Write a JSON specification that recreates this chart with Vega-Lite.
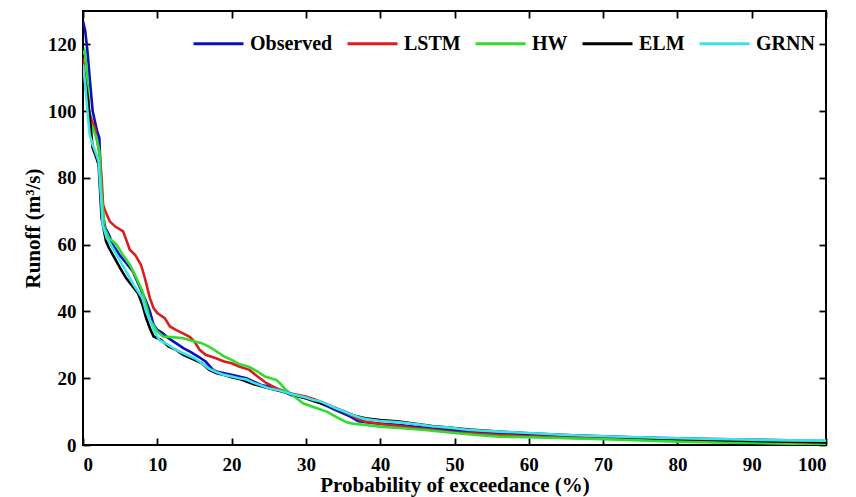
{
  "$schema": "https://vega.github.io/schema/vega-lite/v6.json",
  "width": 743,
  "height": 434,
  "autosize": {"type": "none"},
  "padding": {"left": 83, "top": 11, "right": 30, "bottom": 52},
  "background": "white",
  "config": {
    "view": {"stroke": "black", "strokeWidth": 2},
    "font": "Liberation Serif",
    "axis": {
      "grid": false,
      "domain": false,
      "tickColor": "black",
      "tickSize": -7,
      "tickWidth": 1.8,
      "labelFont": "Liberation Serif",
      "labelFontSize": 19,
      "labelFontWeight": "bold",
      "labelColor": "black",
      "titleFont": "Liberation Serif",
      "titleFontSize": 21,
      "titleFontWeight": "bold",
      "titleColor": "black"
    }
  },
  "datasets": {
    "curves": [
      {"model":"Observed","x":0,"y":127},{"model":"Observed","x":0.3,"y":124},{"model":"Observed","x":0.6,"y":118},{"model":"Observed","x":0.9,"y":110},{"model":"Observed","x":1.3,"y":100},{"model":"Observed","x":1.6,"y":97},{"model":"Observed","x":1.9,"y":94},{"model":"Observed","x":2.2,"y":92},{"model":"Observed","x":2.4,"y":80},{"model":"Observed","x":2.6,"y":70},{"model":"Observed","x":3.0,"y":65},{"model":"Observed","x":3.5,"y":63},{"model":"Observed","x":4.0,"y":60},{"model":"Observed","x":4.9,"y":57},{"model":"Observed","x":5.8,"y":54.5},{"model":"Observed","x":6.7,"y":52},{"model":"Observed","x":7.5,"y":48},{"model":"Observed","x":8.5,"y":43},{"model":"Observed","x":9.0,"y":40},{"model":"Observed","x":9.5,"y":36},{"model":"Observed","x":10,"y":34.5},{"model":"Observed","x":10.7,"y":33.5},{"model":"Observed","x":11.5,"y":32},{"model":"Observed","x":12.5,"y":30.5},{"model":"Observed","x":13.5,"y":29},{"model":"Observed","x":14.4,"y":28},{"model":"Observed","x":15.5,"y":26.5},{"model":"Observed","x":16.5,"y":25},{"model":"Observed","x":17.5,"y":22.5},{"model":"Observed","x":18,"y":22},{"model":"Observed","x":19,"y":21.5},{"model":"Observed","x":20,"y":21},{"model":"Observed","x":21,"y":20.5},{"model":"Observed","x":22,"y":20},{"model":"Observed","x":23,"y":19},{"model":"Observed","x":24,"y":18},{"model":"Observed","x":25,"y":17.5},{"model":"Observed","x":26.5,"y":16.5},{"model":"Observed","x":28,"y":15},{"model":"Observed","x":29,"y":14.5},{"model":"Observed","x":30,"y":14},{"model":"Observed","x":31,"y":13.5},{"model":"Observed","x":32,"y":12.5},{"model":"Observed","x":33,"y":11.5},{"model":"Observed","x":34,"y":10.5},{"model":"Observed","x":35,"y":9.5},{"model":"Observed","x":36,"y":8.5},{"model":"Observed","x":37,"y":7.2},{"model":"Observed","x":38,"y":6.8},{"model":"Observed","x":40,"y":6.4},{"model":"Observed","x":42.6,"y":6},{"model":"Observed","x":45,"y":5.4},{"model":"Observed","x":47,"y":4.9},{"model":"Observed","x":49.3,"y":4.5},{"model":"Observed","x":52,"y":4},{"model":"Observed","x":56,"y":3.6},{"model":"Observed","x":60,"y":3.2},{"model":"Observed","x":65,"y":2.8},{"model":"Observed","x":70,"y":2.4},{"model":"Observed","x":75,"y":2.2},{"model":"Observed","x":80,"y":2.0},{"model":"Observed","x":85,"y":1.8},{"model":"Observed","x":90,"y":1.6},{"model":"Observed","x":95,"y":1.4},{"model":"Observed","x":100,"y":1.2},

      {"model":"LSTM","x":0,"y":116},{"model":"LSTM","x":0.2,"y":112},{"model":"LSTM","x":0.4,"y":106},{"model":"LSTM","x":0.8,"y":100},{"model":"LSTM","x":1.2,"y":97},{"model":"LSTM","x":1.6,"y":95},{"model":"LSTM","x":2.0,"y":90},{"model":"LSTM","x":2.3,"y":86},{"model":"LSTM","x":2.5,"y":80},{"model":"LSTM","x":2.7,"y":72},{"model":"LSTM","x":3.0,"y":70},{"model":"LSTM","x":3.6,"y":67},{"model":"LSTM","x":4.3,"y":65.5},{"model":"LSTM","x":5.4,"y":64},{"model":"LSTM","x":5.9,"y":61},{"model":"LSTM","x":6.3,"y":58.5},{"model":"LSTM","x":7.0,"y":57},{"model":"LSTM","x":7.8,"y":54},{"model":"LSTM","x":8.2,"y":51},{"model":"LSTM","x":8.5,"y":48.5},{"model":"LSTM","x":9.0,"y":44},{"model":"LSTM","x":9.5,"y":41},{"model":"LSTM","x":10,"y":39.5},{"model":"LSTM","x":11,"y":38},{"model":"LSTM","x":11.7,"y":35.5},{"model":"LSTM","x":12.5,"y":34.5},{"model":"LSTM","x":13.4,"y":33.5},{"model":"LSTM","x":14.4,"y":32.3},{"model":"LSTM","x":15,"y":31},{"model":"LSTM","x":15.7,"y":28.5},{"model":"LSTM","x":16.5,"y":27},{"model":"LSTM","x":17.9,"y":26},{"model":"LSTM","x":19,"y":25},{"model":"LSTM","x":20,"y":24.5},{"model":"LSTM","x":21,"y":23.5},{"model":"LSTM","x":22.4,"y":22.5},{"model":"LSTM","x":23.5,"y":20.5},{"model":"LSTM","x":24.7,"y":18.5},{"model":"LSTM","x":26,"y":17},{"model":"LSTM","x":27.8,"y":15.5},{"model":"LSTM","x":29,"y":15},{"model":"LSTM","x":30,"y":14.5},{"model":"LSTM","x":31.4,"y":13.5},{"model":"LSTM","x":32.5,"y":12.5},{"model":"LSTM","x":34,"y":11},{"model":"LSTM","x":35,"y":10},{"model":"LSTM","x":36,"y":9},{"model":"LSTM","x":37,"y":7.8},{"model":"LSTM","x":38,"y":7},{"model":"LSTM","x":40,"y":6.3},{"model":"LSTM","x":42,"y":5.8},{"model":"LSTM","x":45,"y":5},{"model":"LSTM","x":48,"y":4.3},{"model":"LSTM","x":50,"y":3.8},{"model":"LSTM","x":55,"y":3.1},{"model":"LSTM","x":60,"y":2.6},{"model":"LSTM","x":65,"y":2.2},{"model":"LSTM","x":70,"y":2.0},{"model":"LSTM","x":75,"y":1.7},{"model":"LSTM","x":80,"y":1.4},{"model":"LSTM","x":85,"y":1.2},{"model":"LSTM","x":90,"y":1.0},{"model":"LSTM","x":95,"y":0.8},{"model":"LSTM","x":100,"y":0.6},

      {"model":"HW","x":0,"y":117},{"model":"HW","x":0.2,"y":118},{"model":"HW","x":0.5,"y":113},{"model":"HW","x":0.9,"y":97},{"model":"HW","x":1.3,"y":95},{"model":"HW","x":1.8,"y":92},{"model":"HW","x":2.2,"y":88},{"model":"HW","x":2.5,"y":75},{"model":"HW","x":2.9,"y":65},{"model":"HW","x":3.5,"y":62},{"model":"HW","x":4.5,"y":60},{"model":"HW","x":5.5,"y":56.5},{"model":"HW","x":6.3,"y":54},{"model":"HW","x":7.2,"y":50},{"model":"HW","x":8.0,"y":46},{"model":"HW","x":8.5,"y":42},{"model":"HW","x":9.0,"y":37.5},{"model":"HW","x":10,"y":34},{"model":"HW","x":10.8,"y":32.5},{"model":"HW","x":12,"y":32.3},{"model":"HW","x":13.5,"y":32},{"model":"HW","x":15,"y":31},{"model":"HW","x":16,"y":30.5},{"model":"HW","x":17,"y":29.4},{"model":"HW","x":18,"y":28},{"model":"HW","x":19,"y":26.5},{"model":"HW","x":20,"y":25.5},{"model":"HW","x":21,"y":24.3},{"model":"HW","x":22.4,"y":23.4},{"model":"HW","x":23.5,"y":22},{"model":"HW","x":24.5,"y":20.5},{"model":"HW","x":26,"y":19.5},{"model":"HW","x":26.5,"y":18.5},{"model":"HW","x":27.3,"y":16.5},{"model":"HW","x":28.2,"y":15},{"model":"HW","x":29.6,"y":12.5},{"model":"HW","x":31,"y":11.4},{"model":"HW","x":32.8,"y":10},{"model":"HW","x":34,"y":8.5},{"model":"HW","x":35.5,"y":6.8},{"model":"HW","x":36.3,"y":6.4},{"model":"HW","x":38,"y":6},{"model":"HW","x":40,"y":5.5},{"model":"HW","x":43,"y":5},{"model":"HW","x":46,"y":4.5},{"model":"HW","x":50,"y":3.6},{"model":"HW","x":53,"y":3},{"model":"HW","x":56,"y":2.5},{"model":"HW","x":60,"y":2.3},{"model":"HW","x":65,"y":2.0},{"model":"HW","x":70,"y":1.7},{"model":"HW","x":75,"y":1.4},{"model":"HW","x":80,"y":1.0},{"model":"HW","x":85,"y":0.8},{"model":"HW","x":90,"y":0.6},{"model":"HW","x":95,"y":0.4},{"model":"HW","x":100,"y":0.2},

      {"model":"ELM","x":0,"y":113},{"model":"ELM","x":0.3,"y":109},{"model":"ELM","x":0.66,"y":104},{"model":"ELM","x":1.0,"y":96},{"model":"ELM","x":1.3,"y":89},{"model":"ELM","x":1.8,"y":86},{"model":"ELM","x":2.1,"y":84},{"model":"ELM","x":2.3,"y":76},{"model":"ELM","x":2.5,"y":68},{"model":"ELM","x":3.1,"y":61},{"model":"ELM","x":3.5,"y":59},{"model":"ELM","x":4.0,"y":57},{"model":"ELM","x":5.0,"y":53},{"model":"ELM","x":5.8,"y":50},{"model":"ELM","x":6.5,"y":48},{"model":"ELM","x":7.4,"y":45.5},{"model":"ELM","x":8.0,"y":42},{"model":"ELM","x":8.5,"y":38},{"model":"ELM","x":9.0,"y":35},{"model":"ELM","x":9.5,"y":32.5},{"model":"ELM","x":10.5,"y":31.5},{"model":"ELM","x":11.5,"y":29.5},{"model":"ELM","x":12.5,"y":28.5},{"model":"ELM","x":13.5,"y":27},{"model":"ELM","x":15,"y":25.5},{"model":"ELM","x":16,"y":24.5},{"model":"ELM","x":17,"y":22.5},{"model":"ELM","x":18,"y":21.5},{"model":"ELM","x":19,"y":21},{"model":"ELM","x":20,"y":20.3},{"model":"ELM","x":21,"y":19.8},{"model":"ELM","x":22,"y":19},{"model":"ELM","x":23,"y":18.2},{"model":"ELM","x":24,"y":17.6},{"model":"ELM","x":25,"y":17},{"model":"ELM","x":26.5,"y":16.2},{"model":"ELM","x":28,"y":15.3},{"model":"ELM","x":30,"y":14},{"model":"ELM","x":31,"y":13.2},{"model":"ELM","x":32,"y":12.5},{"model":"ELM","x":33,"y":11.8},{"model":"ELM","x":34,"y":11},{"model":"ELM","x":35,"y":10.2},{"model":"ELM","x":36,"y":9.2},{"model":"ELM","x":37,"y":8.5},{"model":"ELM","x":38,"y":8},{"model":"ELM","x":40,"y":7.5},{"model":"ELM","x":42.6,"y":7},{"model":"ELM","x":45,"y":6.3},{"model":"ELM","x":47,"y":5.7},{"model":"ELM","x":49.3,"y":5.2},{"model":"ELM","x":52,"y":4.6},{"model":"ELM","x":56,"y":4.0},{"model":"ELM","x":60,"y":3.5},{"model":"ELM","x":65,"y":3.0},{"model":"ELM","x":70,"y":2.6},{"model":"ELM","x":75,"y":2.2},{"model":"ELM","x":80,"y":1.8},{"model":"ELM","x":85,"y":1.5},{"model":"ELM","x":90,"y":1.2},{"model":"ELM","x":95,"y":1.0},{"model":"ELM","x":100,"y":0.8},

      {"model":"GRNN","x":0,"y":114},{"model":"GRNN","x":0.3,"y":108},{"model":"GRNN","x":0.6,"y":100},{"model":"GRNN","x":0.9,"y":93},{"model":"GRNN","x":1.3,"y":90},{"model":"GRNN","x":1.8,"y":87},{"model":"GRNN","x":2.1,"y":85},{"model":"GRNN","x":2.4,"y":75},{"model":"GRNN","x":2.65,"y":66},{"model":"GRNN","x":3.2,"y":62},{"model":"GRNN","x":4.0,"y":59},{"model":"GRNN","x":4.9,"y":55.5},{"model":"GRNN","x":5.8,"y":52},{"model":"GRNN","x":6.8,"y":48},{"model":"GRNN","x":8.0,"y":44},{"model":"GRNN","x":8.5,"y":40},{"model":"GRNN","x":9.0,"y":37.4},{"model":"GRNN","x":9.6,"y":34},{"model":"GRNN","x":10.3,"y":31.4},{"model":"GRNN","x":11.5,"y":30},{"model":"GRNN","x":12.5,"y":28.5},{"model":"GRNN","x":13.5,"y":27.5},{"model":"GRNN","x":15,"y":26},{"model":"GRNN","x":16,"y":24.5},{"model":"GRNN","x":17,"y":22.8},{"model":"GRNN","x":18,"y":21.8},{"model":"GRNN","x":19,"y":21},{"model":"GRNN","x":20,"y":20.5},{"model":"GRNN","x":21,"y":20},{"model":"GRNN","x":22,"y":19.6},{"model":"GRNN","x":23,"y":18.6},{"model":"GRNN","x":24,"y":17.8},{"model":"GRNN","x":25,"y":17},{"model":"GRNN","x":26.5,"y":16.3},{"model":"GRNN","x":28,"y":15.3},{"model":"GRNN","x":30,"y":14.2},{"model":"GRNN","x":31,"y":13.5},{"model":"GRNN","x":32,"y":13},{"model":"GRNN","x":33,"y":12},{"model":"GRNN","x":34,"y":11},{"model":"GRNN","x":35,"y":10.2},{"model":"GRNN","x":36,"y":9.2},{"model":"GRNN","x":37,"y":8.4},{"model":"GRNN","x":38,"y":7.8},{"model":"GRNN","x":40,"y":7.2},{"model":"GRNN","x":42.6,"y":6.8},{"model":"GRNN","x":45,"y":6.2},{"model":"GRNN","x":47,"y":5.6},{"model":"GRNN","x":49.3,"y":5.2},{"model":"GRNN","x":52,"y":4.5},{"model":"GRNN","x":56,"y":4.0},{"model":"GRNN","x":60,"y":3.6},{"model":"GRNN","x":65,"y":3.0},{"model":"GRNN","x":70,"y":2.6},{"model":"GRNN","x":75,"y":2.3},{"model":"GRNN","x":80,"y":2.0},{"model":"GRNN","x":85,"y":1.8},{"model":"GRNN","x":90,"y":1.6},{"model":"GRNN","x":95,"y":1.4},{"model":"GRNN","x":100,"y":1.3}
    ]
  },
  "data": {"name": "curves"},
  "layer": [
    {
      "mark": {"type": "line", "strokeWidth": 2.6, "clip": true},
      "encoding": {
        "x": {
          "field": "x", "type": "quantitative",
          "scale": {"domain": [0, 100], "nice": false},
          "axis": {"values": [0,10,20,30,40,50,60,70,80,90,100], "title": "Probability of exceedance (%)", "labelPadding": 17, "titlePadding": 0}
        },
        "y": {
          "field": "y", "type": "quantitative",
          "scale": {"domain": [0, 130], "nice": false},
          "axis": {"values": [0,20,40,60,80,100,120], "title": "Runoff (m³/s)", "labelPadding": 14, "titlePadding": 4}
        },
        "color": {
          "field": "model", "type": "nominal",
          "scale": {"domain": ["Observed","LSTM","HW","ELM","GRNN"], "range": ["#0A10C0","#D81E1E","#2EDD2E","#000000","#3DE3E8"]},
          "legend": {
            "title": null,
            "orient": "none",
            "legendX": 109,
            "legendY": 6,
            "direction": "horizontal",
            "symbolType": "stroke",
            "symbolSize": 2500,
            "symbolStrokeWidth": 3,
            "labelFont": "Liberation Serif",
            "labelFontSize": 20,
            "labelFontWeight": "bold",
            "labelColor": "black",
            "labelOffset": 5,
            "columnPadding": 8
          }
        },
        "order": {"field": "x", "type": "quantitative"}
      }
    },
    {
      "mark": {"type": "line", "opacity": 0},
      "encoding": {
        "x": {"field": "x", "type": "quantitative", "axis": {"orient": "top", "values": [0,10,20,30,40,50,60,70,80,90,100], "labels": false, "title": null}},
        "y": {"field": "y", "type": "quantitative", "axis": {"orient": "right", "values": [0,20,40,60,80,100,120], "labels": false, "title": null}}
      }
    }
  ],
  "resolve": {"axis": {"x": "independent", "y": "independent"}}
}
